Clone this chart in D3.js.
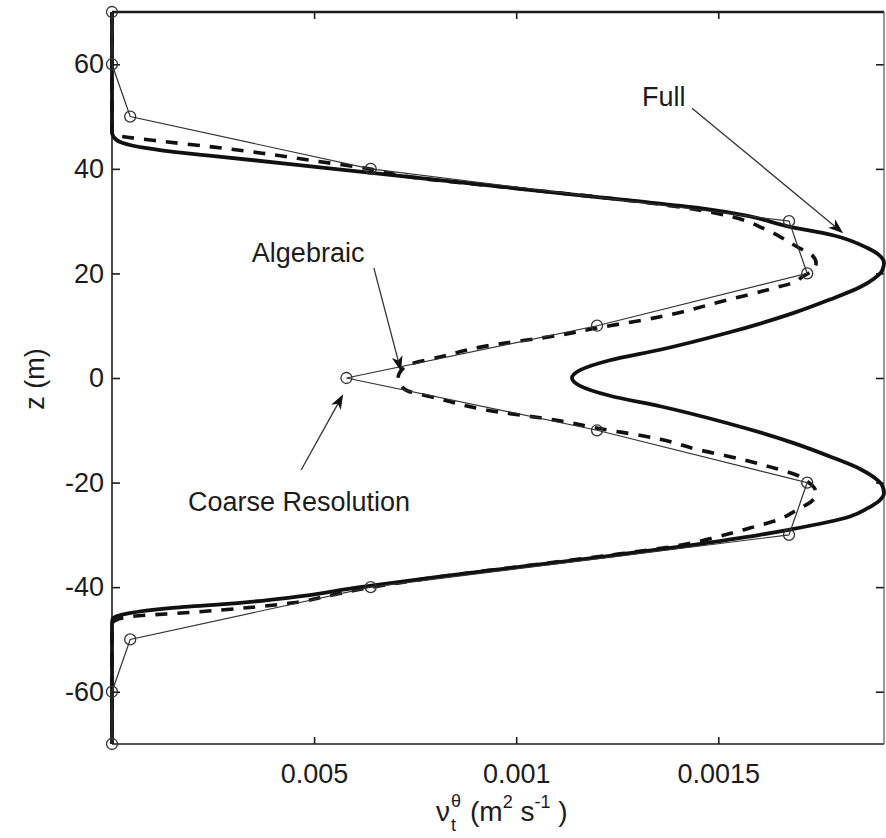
<!DOCTYPE html>
<html>
<head>
<meta charset="utf-8">
<script src="https://cdn.jsdelivr.net/npm/d3@7"></script>
<style>
  body { margin: 0; background: #fff; }
  svg { display: block; font-family: "Liberation Sans", Arial, Helvetica, sans-serif; }
</style>
</head>
<body>
<svg id="chart" width="886" height="838"></svg>
<script>
// Vertical profiles of the eddy diffusivity nu_t^theta (m^2 s^-1) against height z (m)

// Full model (solid)
const zFull = [70, 47, 46, 45, 44, 43, 42.5, 40, 38, 36, 34, 32.5, 31, 29, 27.3, 24.9, 23.5, 22, 20.5, 19,
  17.4, 15, 12.4, 8.6, 5.4, 3.4, 1.5, 0, -1.5, -3.4, -5.4, -8.6, -12.4, -15, -17.4, -19, -20.5, -22, -23.5, -24.9,
  -26.5, -29, -30, -32, -34, -36, -38, -40, -42, -43, -44, -45, -46, -47, -70];
const nuFull = [0, 0, 0.000005, 0.000025, 0.000082, 0.000181, 0.000247, 0.000549, 0.000792, 0.001032,
  0.001274, 0.001455, 0.001573, 0.001672, 0.001784, 0.001868, 0.001898, 0.00191, 0.001905, 0.001885,
  0.001851, 0.001776, 0.001685, 0.001521, 0.001356, 0.001232, 0.001158, 0.001138, 0.001158, 0.001232,
  0.001356, 0.001521, 0.001685, 0.001776, 0.001851, 0.001885, 0.001905, 0.00191, 0.001898, 0.00187,
  0.001826, 0.001677, 0.001603, 0.00143, 0.001232, 0.001022, 0.000811, 0.000614, 0.00044, 0.000317,
  0.000143, 0.00004, 0.000002, 0, 0];

// Algebraic closure (dashed)
const zAlg = [70, 47, 46.5, 46.2, 45.2, 44.2, 43, 41.6, 39.9, 38.8, 36, 34, 32.1, 30.8, 28.3, 25.1, 23.5, 22, 20.5, 19.3,
  18.4, 17, 14.9, 11.7, 9.5, 8.2, 6, 4, 2.2, 0, -2.2, -4, -6, -8.2, -9.5, -11.7, -13.8, -14.9, -17, -18.6,
  -19.5, -20.5, -22, -23.5, -25.2, -27.2, -28.7, -30.4, -32, -34, -36, -38, -39, -40, -41.6, -43, -44.8, -45.7, -46.5, -47, -70];
const nuAlg = [0, 0, 0.000005, 0.000025, 0.000131, 0.000247, 0.000371, 0.000495, 0.000643, 0.000708,
  0.001032, 0.001274, 0.001455, 0.001536, 0.00162, 0.001695, 0.001732, 0.001742, 0.001732, 0.001707,
  0.00169, 0.001628, 0.001521, 0.001356, 0.001195, 0.001108, 0.000918, 0.000811, 0.000725, 0.000708,
  0.000725, 0.000811, 0.000918, 0.001108, 0.001195, 0.001356, 0.001455, 0.001521, 0.001628, 0.001695,
  0.001714, 0.001732, 0.001742, 0.001732, 0.001695, 0.001645, 0.001578, 0.001497, 0.001405, 0.00122,
  0.001014, 0.000811, 0.000725, 0.000643, 0.000539, 0.000448, 0.0002, 0.000037, 0.000005, 0, 0];

// Coarse resolution run (thin line with open circles)
const zCoarse = [70, 60, 50, 40, 30, 20, 10, 0, -10, -20, -30, -40, -50, -60, -70];
const nuCoarse = [0, 0, 0.000045, 0.00064, 0.001675, 0.00172, 0.0012, 0.00058, 0.0012, 0.00172, 0.001675, 0.00064, 0.000045, 0, 0];

// Axes
const xDomain = [0, 0.00191];
const zDomain = [-70, 70];
const xTicks = [0.0005, 0.001, 0.0015];
const xTickLabels = ["0.005", "0.001", "0.0015"];
const zTicks = [-60, -40, -20, 0, 20, 40, 60];

// Annotations: label anchor and arrow from/to, in data units
const annLabels = ["Full", "Algebraic", "Coarse Resolution"];
const annTextNu = [0.001311, 0.000346, 0.000188];
const annTextZ = [52.0, 22.2, -25.4];
const annFromNu = [0.001435, 0.000648, 0.000468];
const annFromZ = [51.6, 21.0, -17.6];
const annToNu = [0.001809, 0.000715, 0.000572];
const annToZ = [27.7, 1.3, -3.1];

const svg = d3.select("#chart");
const plot = { left: 112, right: 884, top: 12, bottom: 744 };
const x = d3.scaleLinear().domain(xDomain).range([plot.left, plot.right]);
const y = d3.scaleLinear().domain(zDomain).range([plot.bottom, plot.top]);
const ink = "#1c1c1c";
const fontPx = 27;

svg.append("defs").append("clipPath").attr("id", "plotclip")
  .append("rect")
  .attr("x", plot.left - 4).attr("y", plot.top - 4)
  .attr("width", plot.right - plot.left + 6).attr("height", plot.bottom - plot.top + 8);

// Axes with inward ticks
function styleAxis(g) {
  g.select(".domain").remove();
  g.selectAll(".tick line").attr("stroke", ink).attr("stroke-width", 1.6);
  g.selectAll(".tick text").attr("fill", ink).style("font-size", fontPx + "px")
    .style("font-family", "'Liberation Sans', Arial, Helvetica, sans-serif");
}

svg.append("g").attr("transform", `translate(0,${plot.bottom})`)
  .call(d3.axisBottom(x).tickValues(xTicks).tickFormat((d, i) => xTickLabels[i])
    .tickSizeInner(-7).tickSizeOuter(0).tickPadding(20))
  .call(styleAxis);

svg.append("g").attr("transform", `translate(0,${plot.top})`)
  .call(d3.axisTop(x).tickValues(xTicks).tickFormat("").tickSizeInner(-7).tickSizeOuter(0))
  .call(styleAxis);

svg.append("g").attr("transform", `translate(${plot.left},0)`)
  .call(d3.axisLeft(y).tickValues(zTicks).tickFormat(d => String(d))
    .tickSizeInner(-8).tickSizeOuter(0).tickPadding(8))
  .call(styleAxis);

svg.append("g").attr("transform", `translate(${plot.right},0)`)
  .call(d3.axisRight(y).tickValues(zTicks).tickFormat("").tickSizeInner(-8).tickSizeOuter(0))
  .call(styleAxis);

// Plot frame
const frame = svg.append("g").attr("stroke", ink).attr("fill", "none");
frame.append("line").attr("x1", plot.left).attr("x2", plot.right).attr("y1", plot.top).attr("y2", plot.top).attr("stroke-width", 2.6);
frame.append("line").attr("x1", plot.left).attr("x2", plot.right).attr("y1", plot.bottom).attr("y2", plot.bottom).attr("stroke-width", 1.6);
frame.append("line").attr("x1", plot.left).attr("x2", plot.left).attr("y1", plot.top).attr("y2", plot.bottom).attr("stroke-width", 1.6);
frame.append("line").attr("x1", plot.right).attr("x2", plot.right).attr("y1", plot.top).attr("y2", plot.bottom).attr("stroke-width", 1.2).attr("stroke", "#555");

// Profiles
const profile = d3.line()
  .x(d => x(d[0]))
  .y(d => y(d[1]))
  .curve(d3.curveMonotoneY);

const curves = svg.append("g").attr("clip-path", "url(#plotclip)").attr("fill", "none");

curves.append("path")
  .datum(d3.zip(nuFull, zFull))
  .attr("d", profile)
  .attr("stroke", "#111").attr("stroke-width", 3.8).attr("stroke-linejoin", "round");

curves.append("path")
  .datum(d3.zip(nuAlg, zAlg))
  .attr("d", profile)
  .attr("stroke", "#111").attr("stroke-width", 3.6).attr("stroke-dasharray", "12,10");

const coarseLine = d3.line().x(d => x(d[0])).y(d => y(d[1]));
curves.append("path")
  .datum(d3.zip(nuCoarse, zCoarse))
  .attr("d", coarseLine)
  .attr("stroke", "#333").attr("stroke-width", 1.2);

svg.append("g").selectAll("circle")
  .data(d3.zip(nuCoarse, zCoarse))
  .join("circle")
  .attr("cx", d => x(d[0])).attr("cy", d => y(d[1]))
  .attr("r", 5.5)
  .attr("fill", "none").attr("stroke", "#333").attr("stroke-width", 1.3);

// Annotation labels with arrows
const ann = svg.append("g");
annLabels.forEach((label, i) => {
  ann.append("text")
    .attr("x", x(annTextNu[i])).attr("y", y(annTextZ[i]))
    .attr("fill", ink).style("font-size", fontPx + "px")
    .text(label);

  const x1 = x(annFromNu[i]), y1 = y(annFromZ[i]);
  const x2 = x(annToNu[i]), y2 = y(annToZ[i]);
  const ang = Math.atan2(y2 - y1, x2 - x1);
  const L = 15, w = 5.5, notch = 4;
  const ux = Math.cos(ang), uy = Math.sin(ang);
  const px = -uy, py = ux;
  const bx = x2 - ux * L, by = y2 - uy * L;
  const nx = x2 - ux * (L - notch), ny = y2 - uy * (L - notch);

  ann.append("line")
    .attr("x1", x1).attr("y1", y1).attr("x2", nx).attr("y2", ny)
    .attr("stroke", "#333").attr("stroke-width", 1.3);
  ann.append("path")
    .attr("d", `M${x2},${y2}L${bx + px * w},${by + py * w}L${nx},${ny}L${bx - px * w},${by - py * w}Z`)
    .attr("fill", "#111");
});

// Axis titles
const base = 821;
const xt = svg.append("text").attr("fill", ink).style("font-size", "28px");
xt.append("tspan").attr("x", 436).attr("y", base).text("ν");
xt.append("tspan").attr("x", 451).attr("y", base - 14).style("font-size", "18px").text("θ");
xt.append("tspan").attr("x", 451).attr("y", base + 10).style("font-size", "18px").text("t");
// units flow left to right with raised exponents
const units = svg.append("text").attr("x", 470).attr("y", base).attr("fill", ink).style("font-size", "28px");
units.append("tspan").text("(m");
units.append("tspan").attr("dy", -13).style("font-size", "18px").text("2");
units.append("tspan").attr("dy", 13).text(" s");
units.append("tspan").attr("dy", -13).style("font-size", "18px").text("-1");
units.append("tspan").attr("dy", 13).text(" )");

svg.append("text")
  .attr("transform", "translate(44,379) rotate(-90)")
  .attr("text-anchor", "middle")
  .attr("fill", ink).style("font-size", "27px")
  .text("z (m)");
</script>
</body>
</html>
